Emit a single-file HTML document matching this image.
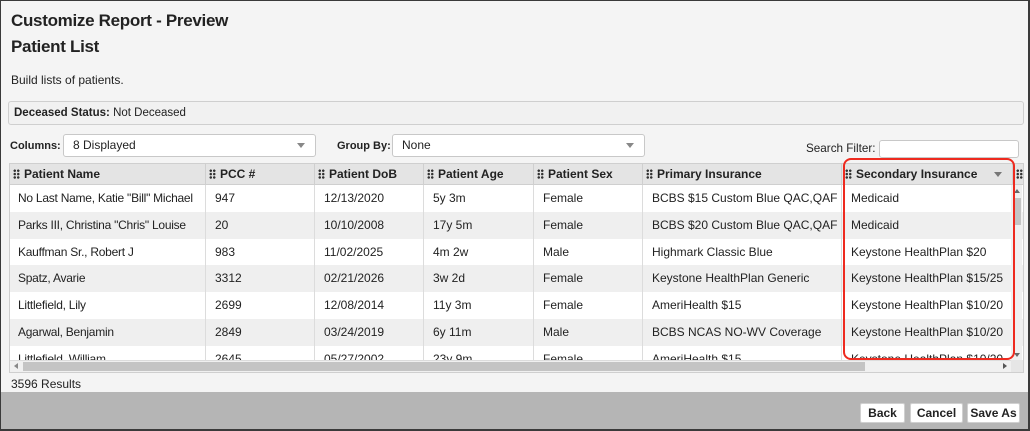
<!DOCTYPE html>
<html><head><meta charset="utf-8">
<style>
*{box-sizing:border-box;margin:0;padding:0}
html,body{width:1030px;height:431px;overflow:hidden;background:#f4f4f4;font-family:"Liberation Sans",Arial,sans-serif;color:#222}
.frame{position:absolute;left:0;top:0;width:1030px;height:431px;border:1px solid #3a3a3a;border-right-width:2px;border-bottom-width:2px;background:#f4f4f4;overflow:hidden}
.a{position:absolute;white-space:nowrap}
.h1{font-weight:bold;font-size:17px;letter-spacing:-0.3px}
.sm{font-size:12px}
.box{position:absolute;border:1px solid #cfcfcf;border-radius:3px}
.sel{position:absolute;background:#fff;border:1px solid #c8c8c8;border-radius:3px;font-size:12px;padding-left:9px;line-height:20px}
.sel:after{content:"";position:absolute;right:10px;top:8px;border-left:4px solid transparent;border-right:4px solid transparent;border-top:5px solid #888}
.tbl{position:absolute;left:8px;top:162px;width:1015px;height:210px;border:1px solid #cfcfcf;background:#fff;overflow:hidden}
.hdr{position:absolute;left:0;top:0;height:21px;width:1100px;background:#e4e4e4;border-bottom:1px solid #cfcfcf}
.hc{position:absolute;top:0;height:21px;border-right:1px solid #cfcfcf;font-size:12px;font-weight:bold;line-height:21px;padding-left:14px;white-space:nowrap}
.grip{position:absolute;left:3px;top:5px;width:7px;height:10px;background-image:radial-gradient(circle,#333 1.1px,transparent 1.4px);background-size:3.5px 3.4px}
.row{position:absolute;left:0;width:1100px;height:26.8px;font-size:12px;line-height:26.8px}
.row.g{background:#efefef}
.c{position:absolute;top:0;height:100%;padding-left:9px;border-right:1px solid #dcdcdc;white-space:nowrap;overflow:hidden}
.c.n{letter-spacing:-0.25px;padding-left:8px}
.btn{position:absolute;top:402px;height:20px;background:#fff;border:1px solid #d0d0d0;border-radius:2px;font-size:12px;font-weight:bold;text-align:center;line-height:18px}
</style></head><body>
<div class="frame">
<div class="a h1" style="left:10px;top:10px">Customize Report - Preview</div>
<div class="a h1" style="left:10px;top:36px">Patient List</div>
<div class="a sm" style="left:10px;top:72px">Build lists of patients.</div>
<div class="box" style="left:7px;top:100px;width:1016px;height:24px;background:#f1f1f1"></div>
<div class="a" style="left:13px;top:106px;font-size:11.5px"><b>Deceased Status:</b> Not Deceased</div>

<div class="a" style="left:9px;top:139px;font-weight:bold;font-size:11px">Columns:</div>
<div class="sel" style="left:62px;top:133px;width:253px;height:23px">8 Displayed</div>
<div class="a" style="left:336px;top:139px;font-weight:bold;font-size:11px">Group By:</div>
<div class="sel" style="left:391px;top:133px;width:253px;height:23px">None</div>
<div class="a sm" style="left:805px;top:141px;font-size:11.7px">Search Filter:</div>
<div class="a" style="left:878px;top:139px;width:140px;height:18px;background:#fff;border:1px solid #c8c8c8;border-radius:3px"></div>

<div class="tbl">
 <div class="hdr">
  <div class="hc" style="left:0;width:196px"><span class="grip"></span>Patient Name</div>
  <div class="hc" style="left:196px;width:109px"><span class="grip"></span>PCC #</div>
  <div class="hc" style="left:305px;width:109px"><span class="grip"></span>Patient DoB</div>
  <div class="hc" style="left:414px;width:110px"><span class="grip"></span>Patient Age</div>
  <div class="hc" style="left:524px;width:109px"><span class="grip"></span>Patient Sex</div>
  <div class="hc" style="left:633px;width:199px"><span class="grip"></span>Primary Insurance</div>
  <div class="hc" style="left:832px;width:171px"><span class="grip"></span>Secondary Insurance<span style="position:absolute;right:10px;top:8px;border-left:4px solid transparent;border-right:4px solid transparent;border-top:5px solid #777"></span></div>
  <div class="hc" style="left:1003px;width:100px"><span class="grip"></span></div>
 </div>
 <div class="row" style="top:21px">
  <div class="c n" style="left:0;width:196px">No Last Name, Katie "Bill" Michael</div><div class="c" style="left:196px;width:109px">947</div><div class="c" style="left:305px;width:109px">12/13/2020</div><div class="c" style="left:414px;width:110px">5y 3m</div><div class="c" style="left:524px;width:109px">Female</div><div class="c" style="left:633px;width:199px">BCBS $15 Custom Blue QAC,QAF</div><div class="c" style="left:832px;width:171px">Medicaid</div></div>
 <div class="row g" style="top:47.8px">
  <div class="c n" style="left:0;width:196px">Parks III, Christina "Chris" Louise</div><div class="c" style="left:196px;width:109px">20</div><div class="c" style="left:305px;width:109px">10/10/2008</div><div class="c" style="left:414px;width:110px">17y 5m</div><div class="c" style="left:524px;width:109px">Female</div><div class="c" style="left:633px;width:199px">BCBS $20 Custom Blue QAC,QAF</div><div class="c" style="left:832px;width:171px">Medicaid</div></div>
 <div class="row" style="top:74.6px">
  <div class="c n" style="left:0;width:196px">Kauffman Sr., Robert J</div><div class="c" style="left:196px;width:109px">983</div><div class="c" style="left:305px;width:109px">11/02/2025</div><div class="c" style="left:414px;width:110px">4m 2w</div><div class="c" style="left:524px;width:109px">Male</div><div class="c" style="left:633px;width:199px">Highmark Classic Blue</div><div class="c" style="left:832px;width:171px">Keystone HealthPlan $20</div></div>
 <div class="row g" style="top:101.4px">
  <div class="c n" style="left:0;width:196px">Spatz, Avarie</div><div class="c" style="left:196px;width:109px">3312</div><div class="c" style="left:305px;width:109px">02/21/2026</div><div class="c" style="left:414px;width:110px">3w 2d</div><div class="c" style="left:524px;width:109px">Female</div><div class="c" style="left:633px;width:199px">Keystone HealthPlan Generic</div><div class="c" style="left:832px;width:171px">Keystone HealthPlan $15/25</div></div>
 <div class="row" style="top:128.2px">
  <div class="c n" style="left:0;width:196px">Littlefield, Lily</div><div class="c" style="left:196px;width:109px">2699</div><div class="c" style="left:305px;width:109px">12/08/2014</div><div class="c" style="left:414px;width:110px">11y 3m</div><div class="c" style="left:524px;width:109px">Female</div><div class="c" style="left:633px;width:199px">AmeriHealth $15</div><div class="c" style="left:832px;width:171px">Keystone HealthPlan $10/20</div></div>
 <div class="row g" style="top:155px">
  <div class="c n" style="left:0;width:196px">Agarwal, Benjamin</div><div class="c" style="left:196px;width:109px">2849</div><div class="c" style="left:305px;width:109px">03/24/2019</div><div class="c" style="left:414px;width:110px">6y 11m</div><div class="c" style="left:524px;width:109px">Male</div><div class="c" style="left:633px;width:199px">BCBS NCAS NO-WV Coverage</div><div class="c" style="left:832px;width:171px">Keystone HealthPlan $10/20</div></div>
 <div class="row" style="top:181.8px">
  <div class="c n" style="left:0;width:196px">Littlefield, William</div><div class="c" style="left:196px;width:109px">2645</div><div class="c" style="left:305px;width:109px">05/27/2002</div><div class="c" style="left:414px;width:110px">23y 9m</div><div class="c" style="left:524px;width:109px">Female</div><div class="c" style="left:633px;width:199px">AmeriHealth $15</div><div class="c" style="left:832px;width:171px">Keystone HealthPlan $10/20</div></div>
 <!-- vertical scrollbar -->
 <div style="position:absolute;left:1001px;top:21px;width:11px;height:175px;background:#f0f0f0"></div>
 <div style="position:absolute;left:1003px;top:34px;width:8px;height:27px;background:#c4c4c4"></div>
 <div style="position:absolute;left:1004px;top:25px;border-left:3px solid transparent;border-right:3px solid transparent;border-bottom:4px solid #666"></div>
 <div style="position:absolute;left:1004px;top:189px;border-left:3px solid transparent;border-right:3px solid transparent;border-top:4px solid #666"></div>
 <!-- horizontal scrollbar -->
 <div style="position:absolute;left:0;top:196px;width:1013px;height:12px;background:#f0f0f0;border-top:1px solid #dcdcdc"></div>
 <div style="position:absolute;left:13px;top:198px;width:842px;height:9px;background:#c4c4c4"></div>
 <div style="position:absolute;left:4px;top:199px;border-top:3px solid transparent;border-bottom:3px solid transparent;border-right:4px solid #888"></div>
 <div style="position:absolute;left:993px;top:199px;border-top:3px solid transparent;border-bottom:3px solid transparent;border-left:4px solid #555"></div>
 <div style="position:absolute;left:1001px;top:196px;width:12px;height:12px;background:#e6e6e6"></div>
</div>
<div class="a" style="left:842px;top:157px;width:172px;height:202px;border:2px solid #ee2a1f;border-radius:8px"></div>

<div class="a sm" style="left:10px;top:376px">3596 Results</div>
<div class="a" style="left:0;top:391px;width:1030px;height:40px;background:#b5b5b5"></div>
<div class="btn" style="left:859px;width:45px">Back</div>
<div class="btn" style="left:909px;width:53px">Cancel</div>
<div class="btn" style="left:966px;width:53px">Save As</div>
</div>
</body></html>
